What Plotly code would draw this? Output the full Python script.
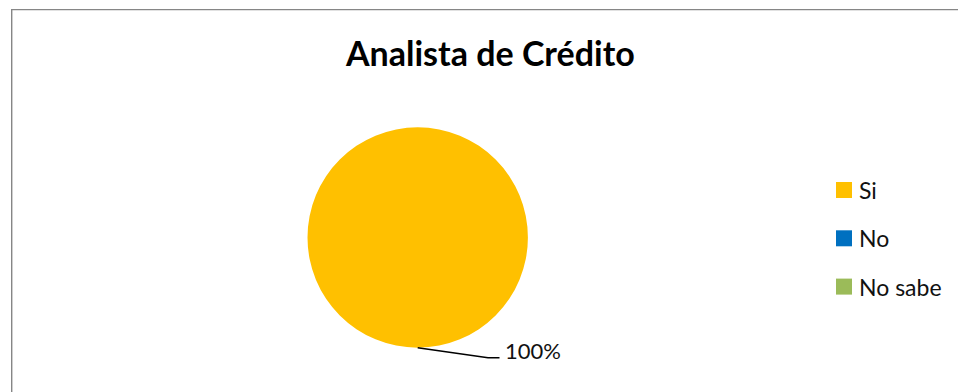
import plotly.graph_objects as go

# Survey answers for the "Analista de Crédito" question
categories = ["Si", "No", "No sabe"]
values = [100, 0, 0]
colors = ["#FFC000", "#0070C0", "#9BBB59"]
chart_title = "Analista de Crédito"

W, H = 958, 392
FONT = "Lato, 'Noto Sans', sans-serif"


def px(x):
    return x / W


def py(y):
    return (H - y) / H


# pie placement in pixels (center and radius)
cx, cy, r = 417.7, 237.5, 110.2

fig = go.Figure()
fig.add_trace(go.Pie(
    labels=categories,
    values=values,
    marker=dict(colors=colors, line=dict(width=0)),
    sort=False,
    direction="clockwise",
    rotation=0,
    textinfo="none",
    hoverinfo="label+percent",
    showlegend=False,
    domain=dict(x=[px(cx - r), px(cx + r)], y=[py(cy + r), py(cy - r)]),
))

shapes = []
annotations = []

# outer chart border
shapes.append(dict(type="rect", xref="paper", yref="paper",
                   x0=px(11.7), x1=1.2, y0=py(9.6), y1=-0.2,
                   line=dict(color="#868686", width=1.4), fillcolor="rgba(0,0,0,0)",
                   layer="above"))

# title
annotations.append(dict(text=f"<b>{chart_title}</b>", xref="paper", yref="paper",
                        x=px(490), y=py(52), xanchor="center", yanchor="middle",
                        showarrow=False, font=dict(family=FONT, size=34, color="#000000")))

# data label with leader line for the largest slice (placed at its mid angle, the bottom)
total = sum(values)
pct = round(values[0] / total * 100)
lx0, ly0 = cx, cy + r
shapes.append(dict(type="path", xref="paper", yref="paper",
                   path=f"M {px(lx0)},{py(ly0)} L {px(488)},{py(357.8)} L {px(499.5)},{py(357.8)}",
                   line=dict(color="#000000", width=1.6)))
annotations.append(dict(text=f"{pct}%", xref="paper", yref="paper",
                        x=px(503), y=py(350.5), xanchor="left", yanchor="middle",
                        showarrow=False, font=dict(family=FONT, size=22, color="#111111")))

# legend entries
leg_x, leg_y0, leg_step, box = 836, 190, 48.3, 16
for i, (name, col) in enumerate(zip(categories, colors)):
    yc = leg_y0 + i * leg_step
    shapes.append(dict(type="rect", xref="paper", yref="paper",
                       x0=px(leg_x), x1=px(leg_x + box),
                       y0=py(yc + box / 2), y1=py(yc - box / 2),
                       line=dict(width=0), fillcolor=col))
    annotations.append(dict(text=name, xref="paper", yref="paper",
                            x=px(leg_x + box + 5), y=py(yc), xanchor="left", yanchor="middle",
                            showarrow=False, font=dict(family=FONT, size=23, color="#111111")))

fig.update_layout(
    width=W, height=H,
    margin=dict(l=0, r=0, t=0, b=0),
    paper_bgcolor="#FFFFFF",
    plot_bgcolor="#FFFFFF",
    shapes=shapes,
    annotations=annotations,
    showlegend=False,
)

fig.write_html("out.html")
